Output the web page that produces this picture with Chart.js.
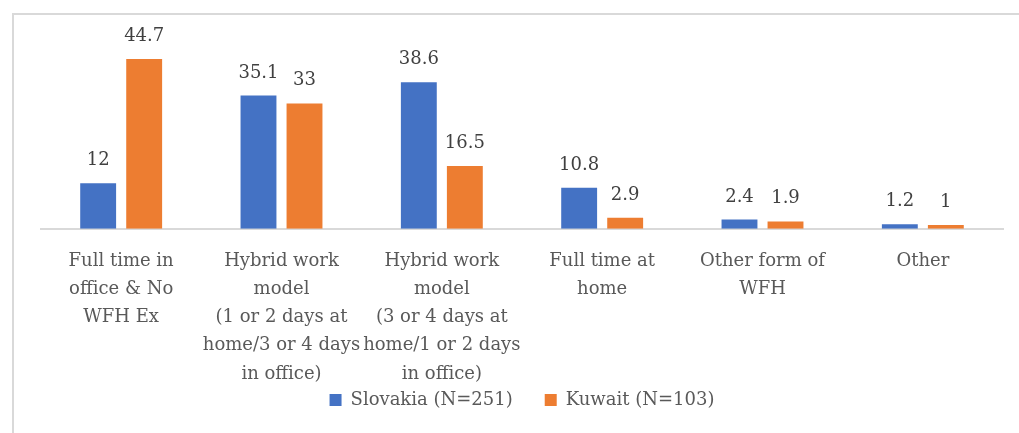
<!DOCTYPE html>
<html>
<head>
<meta charset="utf-8">
<script src="https://cdn.jsdelivr.net/npm/chart.js@4"></script>
<style>
  html, body { margin: 0; padding: 0; background: #fff; overflow: hidden; }
  #wrap { position: relative; width: 1019px; height: 433px; }
</style>
</head>
<body>
<div id="wrap"><canvas id="chart" width="1019" height="433"></canvas></div>
<script>
// ── Data ──────────────────────────────────────────────────────────────────────
const categories = [
  ['Full time in', 'office & No', 'WFH Ex'],
  ['Hybrid work', 'model', '(1 or 2 days at', 'home/3 or 4 days', 'in office)'],
  ['Hybrid work', 'model', '(3 or 4 days at', 'home/1 or 2 days', 'in office)'],
  ['Full time at', 'home'],
  ['Other form of', 'WFH'],
  ['Other'],
];
const slovakia = [12, 35.1, 38.6, 10.8, 2.4, 1.2];
const kuwait   = [44.7, 33, 16.5, 2.9, 1.9, 1];

const FONT = '"DejaVu Serif", "Liberation Serif", serif';

// ── Outer frame ───────────────────────────────────────────────────────────────
const framePlugin = {
  id: 'frame',
  beforeDraw(chart) {
    const ctx = chart.ctx;
    ctx.save();
    ctx.strokeStyle = '#d9d9d9';
    ctx.lineWidth = 2;
    ctx.strokeRect(13, 14, 1100, 500);
    ctx.restore();
  },
};

// ── Legend sits right under the tallest label, tucked into its last line ─────
const legendShift = {
  id: 'legendShift',
  afterLayout(chart) {
    const lg = chart.legend;
    const h = lg.bottom - lg.top;
    lg.top = 359;
    lg.bottom = 359 + h;
  },
};

// ── Value labels above bars ───────────────────────────────────────────────────
const valueLabels = {
  id: 'valueLabels',
  afterDatasetsDraw(chart) {
    const ctx = chart.ctx;
    ctx.save();
    ctx.font = `18px ${FONT}`;
    ctx.fillStyle = '#404040';
    ctx.textAlign = 'center';
    ctx.textBaseline = 'alphabetic';
    chart.data.datasets.forEach((ds, i) => {
      chart.getDatasetMeta(i).data.forEach((bar, j) => {
        ctx.fillText(String(ds.data[j]), bar.x, bar.y - 18);
      });
    });
    ctx.restore();
  },
};

new Chart(document.getElementById('chart'), {
  type: 'bar',
  data: {
    labels: categories,
    datasets: [
      { label: 'Slovakia (N=251)', data: slovakia, backgroundColor: '#4472C4' },
      { label: 'Kuwait (N=103)',   data: kuwait,   backgroundColor: '#ED7D31' },
    ],
  },
  options: {
    responsive: false,
    animation: false,
    categoryPercentage: 0.574,
    barPercentage: 0.78,
    layout: { padding: { left: 41, right: 16, top: 39, bottom: -33 } },
    plugins: {
      legend: {
        position: 'bottom',
        labels: {
          boxWidth: 12, boxHeight: 12, padding: 32,
          color: '#595959',
          font: { family: FONT, size: 18 },
        },
      },
      tooltip: { enabled: false },
    },
    scales: {
      x: {
        grid: { display: false, drawTicks: false },
        border: { display: true, color: '#d9d9d9', width: 2 },
        ticks: {
          color: '#595959',
          padding: 18,
          autoSkip: false,
          maxRotation: 0,
          font: { family: FONT, size: 18, lineHeight: 1.57 },
        },
      },
      y: { display: false, min: 0, max: 50 },
    },
  },
  plugins: [framePlugin, legendShift, valueLabels],
});
</script>
</body>
</html>
